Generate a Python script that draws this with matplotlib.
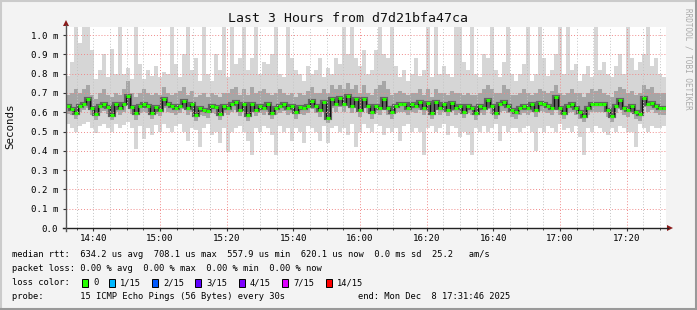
import matplotlib
matplotlib.use("Agg")
import matplotlib.pyplot as plt
from matplotlib.lines import Line2D
from matplotlib.patches import Rectangle, Polygon
import numpy as np

# ---------------- data (microseconds) ----------------
med = [630,618,598,632,645,670,622,590,632,640,625,588,640,620,645,682,628,595,630,642,632,598,628,612,668,
       640,632,620,632,660,622,640,585,622,612,605,632,625,592,632,622,640,652,612,640,585,642,612,632,622,
       640,598,620,632,645,622,632,602,625,620,632,660,630,610,652,572,668,640,672,642,682,632,670,610,668,
       632,600,630,620,670,622,600,630,642,640,620,642,632,655,620,650,598,652,622,640,612,650,622,632,602,
       632,620,598,632,622,662,630,598,640,652,632,610,600,620,632,620,640,610,650,640,632,620,680,622,598,
       632,642,622,600,582,622,642,640,640,642,612,582,632,662,622,612,632,602,592,672,642,650,632,622,620]
p25 = [590,585,565,600,610,620,585,560,595,605,590,560,600,585,600,630,590,560,595,600,595,565,590,580,620,
       600,595,585,595,615,585,600,555,585,580,570,595,590,560,595,585,600,610,580,600,555,600,580,595,585,
       600,565,585,595,605,585,595,565,590,585,595,615,595,575,610,545,620,600,625,600,630,595,620,575,620,
       595,565,595,585,620,585,565,595,600,600,585,600,595,610,585,605,565,610,585,600,580,605,585,595,570,
       595,585,560,595,585,615,590,565,600,605,595,575,565,585,595,585,600,575,605,600,595,585,630,585,565,
       595,600,585,565,550,585,600,600,600,600,575,550,595,615,585,575,595,565,555,625,600,610,595,585,585]
p75 = [690,700,720,700,720,740,690,670,700,720,690,680,700,690,720,760,700,680,700,720,700,690,700,690,730,
       700,690,700,710,730,690,710,680,690,700,680,700,690,680,700,700,720,730,690,720,690,730,700,710,720,
       700,690,700,720,700,690,700,680,700,690,710,730,700,700,720,700,740,720,740,720,750,720,740,700,740,
       700,690,720,740,760,720,690,700,710,700,690,700,700,720,690,720,680,720,700,700,690,710,700,700,690,
       700,690,690,700,720,740,720,700,700,740,720,690,690,700,720,700,690,700,720,710,700,710,740,700,690,
       700,720,700,700,680,700,720,710,720,700,690,680,710,730,720,700,710,690,700,740,720,730,700,700,700]
hi = [790,860,1045,960,1045,1045,920,770,820,900,780,930,800,1045,800,830,770,1045,850,770,820,790,840,780,810,
      800,1045,850,780,900,1045,820,880,760,1045,800,760,900,820,1045,780,1045,850,880,1045,820,880,1045,800,860,
      850,900,1045,800,780,1045,880,820,800,760,840,800,820,880,780,830,800,880,850,1045,900,1045,880,840,920,
      800,820,920,1045,900,880,1045,840,780,820,760,800,880,790,820,1045,780,1045,800,840,800,780,1045,1045,860,
      820,1045,800,780,900,880,1045,820,780,860,1045,800,760,800,850,1045,760,800,1045,880,790,820,900,1045,800,
      1045,820,850,760,800,840,780,1045,820,860,800,780,840,900,800,1045,880,820,860,900,1045,840,880,800,780]
lo = [540,520,500,530,540,550,520,490,530,540,520,495,540,520,535,550,520,410,530,460,520,480,535,500,540,
      520,500,530,540,500,450,520,510,420,520,540,480,500,440,520,395,500,520,530,500,450,380,520,500,530,
      520,480,380,530,500,520,450,520,500,440,530,520,500,450,530,440,520,530,500,520,480,540,420,500,540,
      520,500,540,530,480,520,500,520,450,530,540,500,520,500,380,520,530,500,520,540,480,530,520,470,500,
      480,380,520,500,530,500,520,540,450,530,500,520,520,500,520,530,500,400,520,500,530,520,500,540,510,
      520,500,530,470,380,520,500,530,520,500,480,520,500,530,520,500,500,420,540,520,500,530,520,520,530]

x_labels = ["14:40", "15:00", "15:20", "15:40", "16:00", "16:20", "16:40", "17:00", "17:20"]
y_labels = ["0.0", "0.1 m", "0.2 m", "0.3 m", "0.4 m", "0.5 m", "0.6 m", "0.7 m", "0.8 m", "0.9 m", "1.0 m"]
loss_labels = ["0", "1/15", "2/15", "3/15", "4/15", "7/15", "14/15"]
loss_colors = ["#26ff00", "#00b8ff", "#0059ff", "#5e00ff", "#7e00ff", "#dd00ff", "#ff0000"]

title = "Last 3 Hours from d7d21bfa47ca"
legend_lines = [
    "median rtt:  634.2 us avg  708.1 us max  557.9 us min  620.1 us now  0.0 ms sd  25.2   am/s",
    "packet loss: 0.00 % avg  0.00 % max  0.00 % min  0.00 % now",
]
probe_left = "probe:       15 ICMP Echo Pings (56 Bytes) every 30s"
probe_right = "end: Mon Dec  8 17:31:46 2025"

# ---------------- layout ----------------
W, H = 697, 310
MONO = "DejaVu Sans Mono"
plt.rcParams['font.family'] = MONO

def fx(x):
    return x / W

def fy(y):
    return 1 - y / H

fig = plt.figure(figsize=(W / 100, H / 100), dpi=100)
fig.patch.set_facecolor("#f3f3f3")

T0 = 14 * 3600 + 31 * 60 + 46
SPAN = 3 * 3600
n = len(med)
step = SPAN / n
YTOP = 1.04

ax_l, ax_r, ax_b, ax_t = 66, 666, 228, 27.3
ax = fig.add_axes([fx(ax_l), fy(ax_b), (ax_r - ax_l) / W, (ax_b - ax_t) / H])
ax.set_facecolor("white")
ax.set_xlim(T0, T0 + SPAN)
ax.set_ylim(0, YTOP)
for s in ax.spines.values():
    s.set_visible(False)

xs = T0 + np.arange(n) * step
med_v = np.array(med) / 1000.0
lo_v = np.array(lo) / 1000.0
hi_v = np.array(hi) / 1000.0
p25_v = np.array(p25) / 1000.0
p75_v = np.array(p75) / 1000.0
xe = np.append(xs, xs[-1] + step)
med_e = np.append(med_v, med_v[-1])

# outer smoke (min..max)
ax.bar(xs, hi_v - lo_v, bottom=lo_v, width=step, align="edge", color="#d6d6d6", linewidth=0, zorder=1)
# inner smoke
ax.bar(xs, p75_v - p25_v, bottom=p25_v, width=step, align="edge", color="#a6a6a6", linewidth=0, zorder=1.2)
# dense core around the median
ax.step(xe, med_e, where="post", color="#636363", lw=3.0, zorder=1.4, solid_joinstyle="miter")
ax.step(xe, med_e, where="post", color="#111111", lw=0.9, zorder=1.5)
ax.hlines(med_v, xs, xs + step, color="#26ff00", lw=2.2, zorder=4)

# grid
minor_pos = np.arange(52500, T0 + SPAN, 300)
major_times = [54000, 55200, 57600, 58800, 61200, 62400]
for t in minor_pos:
    if t in major_times:
        ax.axvline(t, color="#f08a8a", lw=0.7, ls=(0, (1, 2)), zorder=2.5)
    else:
        ax.axvline(t, color="#c4c4c4", lw=0.7, ls=(0, (1, 2)), zorder=2.5)
yt = np.arange(0, 11) / 10.0
for v in yt[1:]:
    ax.axhline(v, color="#f08a8a", lw=0.7, ls=(0, (1, 2)), zorder=2.5)

xt = [52800 + 1200 * k for k in range(len(x_labels))]
ax.set_xticks(xt)
ax.set_xticklabels(x_labels, fontsize=6.6, family=MONO)
ax.set_xticks(minor_pos, minor=True)
ax.tick_params(axis="x", which="major", length=2, width=0.8, color="#333333", pad=2.5)
ax.tick_params(axis="x", which="minor", length=1.5, width=0.6, color="#333333")
ax.set_yticks(yt)
ax.set_yticklabels(y_labels, fontsize=6.6, family=MONO)
ax.tick_params(axis="y", length=2.5, width=0.8, color="#333333", pad=3)

# axis lines with arrows
fig.add_artist(Line2D([fx(63), fx(668)], [fy(228), fy(228)], color="#222222", lw=1.0))
fig.add_artist(Line2D([fx(66), fx(66)], [fy(231), fy(25)], color="#555555", lw=1.0))
fig.add_artist(Polygon([[fx(667), fy(225)], [fx(667), fy(231)], [fx(673), fy(228)]],
                       closed=True, color="#8b1a1a", lw=0))
fig.add_artist(Polygon([[fx(63), fy(26)], [fx(69), fy(26)], [fx(66), fy(20)]],
                       closed=True, color="#8b1a1a", lw=0))

# titles
fig.text(fx(348), fy(19), title, ha="center", va="center", fontsize=9.5, family=MONO, color="#111111")
fig.text(fx(10), fy(126), "Seconds", ha="center", va="center", rotation=90, fontsize=7.8, family=MONO,
         color="#111111")
fig.text(fx(688), fy(59), "RRDTOOL / TOBI OETIKER", ha="center", va="center", rotation=270,
         fontsize=5.5, family=MONO, color="#aaaaaa")

# legend
FS = 6.3
rows = [254.5, 268.5, 282.5, 296.5]
fig.text(fx(12), fy(rows[0]), legend_lines[0], ha="left", va="center", fontsize=FS, family=MONO)
fig.text(fx(12), fy(rows[1]), legend_lines[1], ha="left", va="center", fontsize=FS, family=MONO)
fig.text(fx(12), fy(rows[2]), "loss color:", ha="left", va="center", fontsize=FS, family=MONO)
box_x = [82, 109, 152, 195, 239, 282, 326]
for bx, lab, col in zip(box_x, loss_labels, loss_colors):
    fig.add_artist(Rectangle((fx(bx), fy(rows[2] + 4)), 6 / W, 8 / H, facecolor=col,
                             edgecolor="black", lw=0.7))
    fig.text(fx(bx + 11), fy(rows[2]), lab, ha="left", va="center", fontsize=FS, family=MONO)
fig.text(fx(12), fy(rows[3]), probe_left, ha="left", va="center", fontsize=FS, family=MONO)
fig.text(fx(358), fy(rows[3]), probe_right, ha="left", va="center", fontsize=FS, family=MONO)

# 3D-ish border
fig.add_artist(Line2D([0, 1], [fy(0.5), fy(0.5)], color="#cbcbcb", lw=1.5))
fig.add_artist(Line2D([fx(0.5), fx(0.5)], [0, 1], color="#cbcbcb", lw=1.5))
fig.add_artist(Line2D([0, 1], [fy(309), fy(309)], color="#999999", lw=1.5))
fig.add_artist(Line2D([fx(696), fx(696)], [0, 1], color="#999999", lw=1.5))

fig.savefig("out.png", dpi=100, facecolor=fig.get_facecolor())
